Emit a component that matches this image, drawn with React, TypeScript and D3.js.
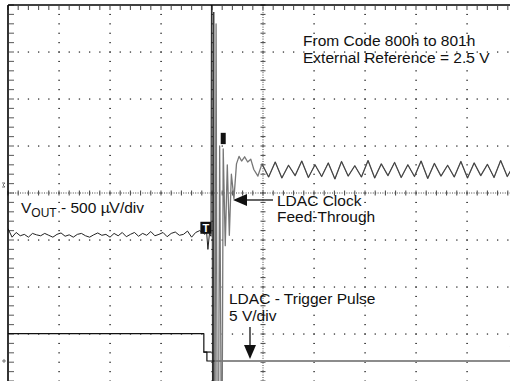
import React from 'react';
import * as d3 from 'd3';

const W = 510;
const H = 381;

// Screen divisions (scope graticule)
const TIME_DIVS = [0, 1, 2, 3, 4, 5, 6, 7, 8, 9, 10];
const VERT_DIVS = [-4, -3, -2, -1, 0, 1, 2, 3, 4];
const CH1_UV_PER_DIV = 500;
const CH2_V_PER_DIV = 5;
const CH2_GROUND_DIV = -3.574;

// VOUT (µV) before the LDAC edge, sampled every 0.08 div
const voutPreStep = 0.08;
const voutPre = [
  -380, -470, -420, -455, -440, -470, -430, -445, -455, -430,
  -450, -470, -440, -425, -460, -445, -470, -440, -430, -455,
  -470, -445, -425, -450, -440, -470, -430, -455, -420, -465,
  -440, -420, -460, -430, -450, -410, -455, -440, -420, -465,
  -430, -415, -450, -440, -405, -470, -420, -400, -430,
];

// Glitch (time div, µV)
const voutGlitchBlack: [number, number][] = [
  [3.86, -440], [3.89, -380], [3.92, -600], [3.95, -430], [3.98, -460],
  [3.99, 2300], [4.0, 2300], [4.01, -2300],
];
const voutGlitchGray: [number, number][] = [
  [4.06, -2300], [4.08, 1800], [4.10, -2300], [4.13, -2300], [4.15, 500],
  [4.18, -2300], [4.20, -2300], [4.22, 470], [4.26, -560], [4.30, 300],
  [4.34, -450], [4.38, 200], [4.43, -60], [4.48, 310], [4.53, 390],
  [4.58, 340], [4.64, 385], [4.70, 330], [4.76, 360], [4.82, 250],
  [4.90, 180],
];

// VOUT (µV) after settling, sampled every 0.13 div from 4.98
const voutPostStart = 4.98;
const voutPostStep = 0.13;
const voutPost = [
  310, 170, 330, 160, 295, 185, 340, 165, 300, 175,
  320, 150, 335, 180, 290, 170, 345, 160, 310, 185,
  325, 165, 300, 175, 340, 155, 315, 180, 295, 170,
  335, 160, 320, 185, 305, 165, 345, 175, 300,
];

// LDAC trigger pulse (time div, V)
const ldacPulse: [number, number][] = [
  [0, 2.9], [3.84, 2.9], [3.84, 0.95], [3.9, 0.95], [3.9, 0], [4.18, 0],
];
const ldacLow: [number, number][] = [[4.18, 0], [10, 0]];
const ldacTriggerLevel = 1.5;

const FONT = '"Liberation Sans", Arial, Helvetica, sans-serif';

export default function App() {
  const x = d3.scaleLinear().domain([0, 10]).range([8, 518]);
  const yDiv = d3.scaleLinear().domain([-4, 4]).range([381, 5]);
  const y1 = (uv: number) => yDiv(uv / CH1_UV_PER_DIV);
  const y2 = (v: number) => yDiv(v / CH2_V_PER_DIV + CH2_GROUND_DIV);

  const line1 = d3.line<[number, number]>().x(d => x(d[0])).y(d => y1(d[1]));
  const line2 = d3.line<[number, number]>().x(d => x(d[0])).y(d => y2(d[1]));

  const pre: [number, number][] = voutPre.map((v, i) => [i * voutPreStep, v]);
  const post: [number, number][] = voutPost.map((v, i) => [voutPostStart + i * voutPostStep, v]);
  const grayTrace = [...voutGlitchGray, ...post];

  const minorT = d3.range(0, 10.001, 0.2);
  const minorV = d3.range(-4, 4.001, 0.2);

  const grid: React.ReactNode[] = [];
  VERT_DIVS.filter(v => v !== 0 && v !== -4 && v !== 4).forEach(v => {
    minorT.forEach((t, i) => {
      if (t === 0) return;
      grid.push(<rect key={`h${v}_${i}`} x={x(t) - 0.6} y={yDiv(v) - 0.6} width={1.3} height={1.3} fill="#333" />);
    });
  });
  TIME_DIVS.filter(t => t !== 0 && t !== 5 && t !== 10).forEach(t => {
    minorV.forEach((v, i) => {
      if (v === 4) return;
      grid.push(<rect key={`v${t}_${i}`} x={x(t) - 0.8} y={yDiv(v) - 0.5} width={1.8} height={1.1} fill="#444" />);
    });
  });
  const cx = x(5);
  const cy = yDiv(0);
  minorT.forEach((t, i) => {
    grid.push(<line key={`ct${i}`} x1={x(t)} x2={x(t)} y1={cy - 2.5} y2={cy + 2.5} stroke="#444" strokeWidth={1} />);
  });
  minorV.forEach((v, i) => {
    grid.push(<line key={`cv${i}`} x1={cx - 2.5} x2={cx + 2.5} y1={yDiv(v)} y2={yDiv(v)} stroke="#444" strokeWidth={1} />);
  });
  minorV.forEach((v, i) => {
    grid.push(<line key={`lt${i}`} x1={9} x2={14} y1={yDiv(v)} y2={yDiv(v)} stroke="#666" strokeWidth={1.1} />);
  });
  minorT.forEach((t, i) => {
    grid.push(<line key={`tt${i}`} x1={x(t)} x2={x(t)} y1={6} y2={10} stroke="#555" strokeWidth={1.1} />);
  });

  const tx = x(3.88);
  const ty = y1(-370);
  const mx = x(4.22);

  return (
    <svg width={W} height={H} style={{ position: 'absolute', left: 0, top: 0, background: '#fff' }}
      fontFamily={FONT}>
      <defs>
        <clipPath id="plot">
          <rect x={8} y={5} width={W - 8} height={H - 5} />
        </clipPath>
      </defs>
      <rect x={0} y={0} width={W} height={H} fill="#fff" />
      <g>{grid}</g>
      <line x1={cx} x2={cx} y1={5} y2={H} stroke="#444" strokeWidth={1} strokeDasharray="1,1.4" />
      <line x1={8} x2={W} y1={cy} y2={cy} stroke="#444" strokeWidth={1} strokeDasharray="1,1.4" />

      <g clipPath="url(#plot)" fill="none" strokeLinejoin="round">
        <path d={line2(ldacPulse) || ''} stroke="#111" strokeWidth={1.2} />
        <path d={line2(ldacLow) || ''} stroke="#8c8c8c" strokeWidth={2.2} />
        <line x1={x(3.83)} x2={x(3.99)} y1={y2(0.95)} y2={y2(0.95)} stroke="#111" strokeWidth={1.2} />
        <path d={line1(grayTrace) || ''} stroke="#777" strokeWidth={1.3} />
        <path d={line1(post) || ''} stroke="#333" strokeWidth={0.8} />
        <path d={line1([...pre, ...voutGlitchBlack]) || ''} stroke="#222" strokeWidth={1} />
        <line x1={x(4.035)} x2={x(4.035)} y1={12} y2={H} stroke="#111" strokeWidth={1.2} />
      </g>

      <line x1={8} x2={8} y1={5} y2={H} stroke="#000" strokeWidth={1.6} />
      <line x1={8} x2={W} y1={5} y2={5} stroke="#000" strokeWidth={1.6} />

      <rect x={tx - 5.5} y={ty - 6} width={11} height={12} fill="#111" />
      <text x={tx} y={ty + 4.5} fontSize={11} fontWeight="bold" fill="#fff" textAnchor="middle">T</text>
      <rect x={mx - 2.5} y={y1(640)} width={5} height={y1(520) - y1(640)} fill="#111" />
      <path d={`M${x(9.84)},${y2(ldacTriggerLevel)} l8,-5 l0,10 z`} fill="#111" />
      <path d={`M2,${y1(85) - 2} l3,0 l-2,2 l2,2 l-3,0`} fill="none" stroke="#555" strokeWidth={0.8} />
      <path d={`M2,${y2(0)} l4,0 M4,${y2(0) - 2} l0,4`} fill="none" stroke="#555" strokeWidth={0.8} />

      <g fontSize={15.5} fill="#111">
        <text x={303} y={46}>From Code 800h to 801h</text>
        <text x={303} y={63}>External Reference = 2.5 V</text>
        <text x={21} y={213}>V<tspan fontSize={12} dy={4}>OUT</tspan><tspan dy={-4}> - 500 µV/div</tspan></text>
        <text x={277} y={206}>LDAC Clock</text>
        <text x={277} y={222}>Feed-Through</text>
        <text x={229} y={304}>LDAC - Trigger Pulse</text>
        <text x={229} y={321}>5 V/div</text>
      </g>
      <line x1={246} x2={273} y1={200} y2={200} stroke="#111" strokeWidth={1.3} />
      <path d="M233,200 L247,194 L247,206 Z" fill="#111" />
      <line x1={250} x2={250} y1={327} y2={346} stroke="#111" strokeWidth={1.3} />
      <path d="M250,359 L244,345 L256,345 Z" fill="#111" />
    </svg>
  );
}
